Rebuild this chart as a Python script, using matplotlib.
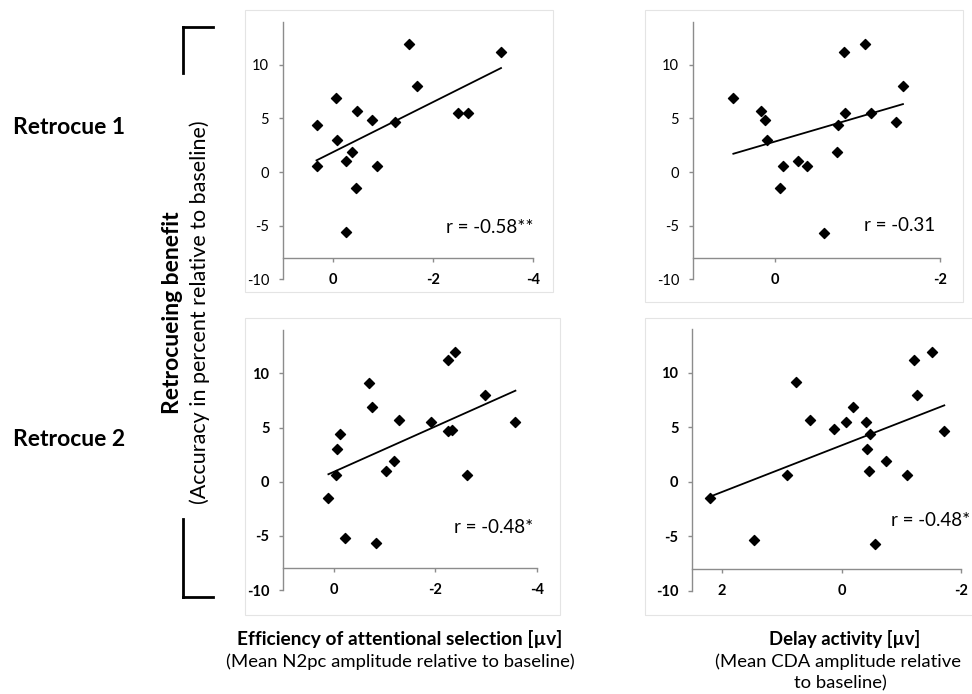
import numpy as np
import matplotlib
matplotlib.use("Agg")
import matplotlib.pyplot as plt
from matplotlib.lines import Line2D
from matplotlib.patches import Rectangle

plt.rcParams['font.family'] = ['Lato', 'DejaVu Sans']

# --- data (x = amplitude in microvolts, y = retrocue benefit in %)
# Retrocue 1, N2pc
n2pc_r1_x = [0.33, 0.33, -0.05, -0.07, -0.25, -0.26, -0.38, -0.46, -0.47,
             -0.78, -0.88, -1.23, -1.51, -1.68, -2.49, -2.70, -3.36]
n2pc_r1_y = [4.4, 0.6, 6.9, 3.0, 1.0, -5.6, 1.9, -1.5, 5.7,
             4.8, 0.6, 4.7, 11.9, 8.0, 5.5, 5.5, 11.2]
# Retrocue 1, CDA
cda_r1_x = [0.51, 0.17, 0.13, 0.10, -0.09, -0.06, -0.28, -0.39, -0.59,
            -0.75, -0.76, -0.85, -0.84, -1.09, -1.16, -1.46, -1.55]
cda_r1_y = [6.9, 5.7, 4.8, 3.0, 0.6, -1.5, 1.0, 0.6, -5.7,
            1.9, 4.4, 5.5, 11.2, 11.9, 5.5, 4.7, 8.0]
# Retrocue 2, N2pc
n2pc_r2_x = [0.11, -0.03, -0.05, -0.11, -0.22, -0.69, -0.75, -0.82, -1.02, -1.18,
             -1.29, -1.92, -2.25, -2.32, -2.24, -2.39, -2.63, -2.98, -3.58]
n2pc_r2_y = [-1.5, 0.6, 3.0, 4.4, -5.2, 9.1, 6.9, -5.7, 1.0, 1.9,
             5.7, 5.5, 4.7, 4.8, 11.2, 12.0, 0.6, 8.0, 5.5]
# Retrocue 2, CDA
cda_r2_x = [2.21, 1.46, 0.91, 0.77, 0.53, 0.12, -0.07, -0.19, -0.41, -0.48,
            -0.43, -0.46, -0.56, -0.74, -1.10, -1.22, -1.26, -1.51, -1.72]
cda_r2_y = [-1.5, -5.3, 0.6, 9.1, 5.7, 4.8, 5.5, 6.9, 5.5, 4.4,
            3.0, 1.0, -5.7, 1.9, 0.6, 11.2, 8.0, 11.9, 4.7]

r_labels = ["r = -0.58**", "r = -0.31", "r = -0.48*", "r = -0.48*"]
y_ticks = [-10, -5, 0, 5, 10]
n2pc_xticks = [0, -2, -4]
cda_r1_xticks = [0, -2]
cda_r2_xticks = [2, 0, -2]

W, H = 972, 694
fig = plt.figure(figsize=(W / 100, H / 100), dpi=100)


def px(left, top, right, bottom):
    # pixel box -> figure fraction rect
    return [left / W, (H - bottom) / H, (right - left) / W, (bottom - top) / H]


axis_grey = '#8c8c8c'

# faint chart-area borders
for l, t, r, b in [(245, 10, 553, 292), (645, 10, 963, 302),
                   (245, 318, 560, 615), (645, 318, 980, 615)]:
    fig.patches.append(Rectangle((l / W, (H - b) / H), (r - l) / W, (b - t) / H,
                                 transform=fig.transFigure, fill=False,
                                 edgecolor='#e4e4e4', lw=0.8))


def scatter_panel(rect, xs, ys, xlim, xticks, rtxt, rpos, bold_y):
    ax = fig.add_axes(rect)
    ax.set_facecolor('none')
    ax.set_xlim(*xlim)
    ax.set_ylim(-10, 14)
    ax.scatter(xs, ys, marker='D', s=26, color='black', zorder=3)
    k, b0 = np.polyfit(xs, ys, 1)
    xx = np.array([max(xs), min(xs)])
    ax.plot(xx, k * xx + b0, color='black', lw=1.3, zorder=2)

    for s in ['top', 'right']:
        ax.spines[s].set_visible(False)
    ax.spines['left'].set_color(axis_grey)
    ax.spines['bottom'].set_color(axis_grey)
    ax.spines['bottom'].set_position(('data', -8))
    ax.spines['left'].set_linewidth(1.0)
    ax.spines['bottom'].set_linewidth(1.0)

    ax.set_yticks(y_ticks)
    ax.set_xticks(xticks)
    ax.set_xticklabels([f"{t:g}" for t in xticks], fontsize=10.5, fontweight='bold')
    ax.set_yticklabels([f"{t:g}" for t in y_ticks], fontsize=10.5,
                       fontweight='bold' if bold_y else 'normal')
    ax.tick_params(axis='y', direction='out', length=3, width=1, color=axis_grey,
                   pad=7, labelcolor='black')
    ax.tick_params(axis='x', direction='out', length=3, width=1, color=axis_grey,
                   pad=7.5, labelcolor='black')
    ax.text(rpos[0], rpos[1], rtxt, transform=ax.transAxes, ha='right', va='center',
            fontsize=13.5)
    return ax


scatter_panel(px(283, 21.7, 533, 279.4), n2pc_r1_x, n2pc_r1_y, (1, -4),
              n2pc_xticks, r_labels[0], (1.0, 0.20), False)
scatter_panel(px(693, 21.7, 940, 279.4), cda_r1_x, cda_r1_y, (1, -2),
              cda_r1_xticks, r_labels[1], (0.98, 0.21), False)
scatter_panel(px(283.3, 330, 536.7, 590), n2pc_r2_x, n2pc_r2_y, (1, -4),
              n2pc_xticks, r_labels[2], (0.985, 0.24), True)
scatter_panel(px(692.3, 329, 961, 591), cda_r2_x, cda_r2_y, (2.5, -2),
              cda_r2_xticks, r_labels[3], (1.035, 0.27), True)

# row labels
fig.text(13 / W, 1 - 128 / H, "Retrocue 1", fontsize=16.5, fontweight='bold',
         ha='left', va='center')
fig.text(13 / W, 1 - 440 / H, "Retrocue 2", fontsize=16.5, fontweight='bold',
         ha='left', va='center')

# shared y-axis title
fig.text(172 / W, 1 - 313 / H, "Retrocueing benefit", fontsize=16.5, fontweight='bold',
         rotation=90, ha='center', va='center')
fig.text(200 / W, 1 - 312 / H, "(Accuracy in percent relative to baseline)",
         fontsize=15.5, rotation=90, ha='center', va='center')

# brackets
for seg in [([183, 213], [27, 27]), ([183, 183], [27, 73]),
            ([183, 183], [519, 597]), ([183, 213], [597, 597])]:
    fig.add_artist(Line2D([v / W for v in seg[0]], [1 - v / H for v in seg[1]],
                          color='black', lw=2, transform=fig.transFigure))

# x-axis titles
fig.text(400 / W, 1 - 639 / H, "Efficiency of attentional selection [µv]",
         fontsize=13.8, fontweight='bold', ha='center', va='center')
fig.text(400 / W, 1 - 662 / H, "(Mean N2pc amplitude relative to baseline)",
         fontsize=13.3, ha='center', va='center')
fig.text(845 / W, 1 - 639 / H, "Delay activity [µv]",
         fontsize=13.3, fontweight='bold', ha='center', va='center')
fig.text(838 / W, 1 - 662 / H, "(Mean CDA amplitude relative",
         fontsize=13.3, ha='center', va='center')
fig.text(840 / W, 1 - 683 / H, "to baseline)",
         fontsize=13.3, ha='center', va='center')

fig.savefig("out.png", dpi=100)
